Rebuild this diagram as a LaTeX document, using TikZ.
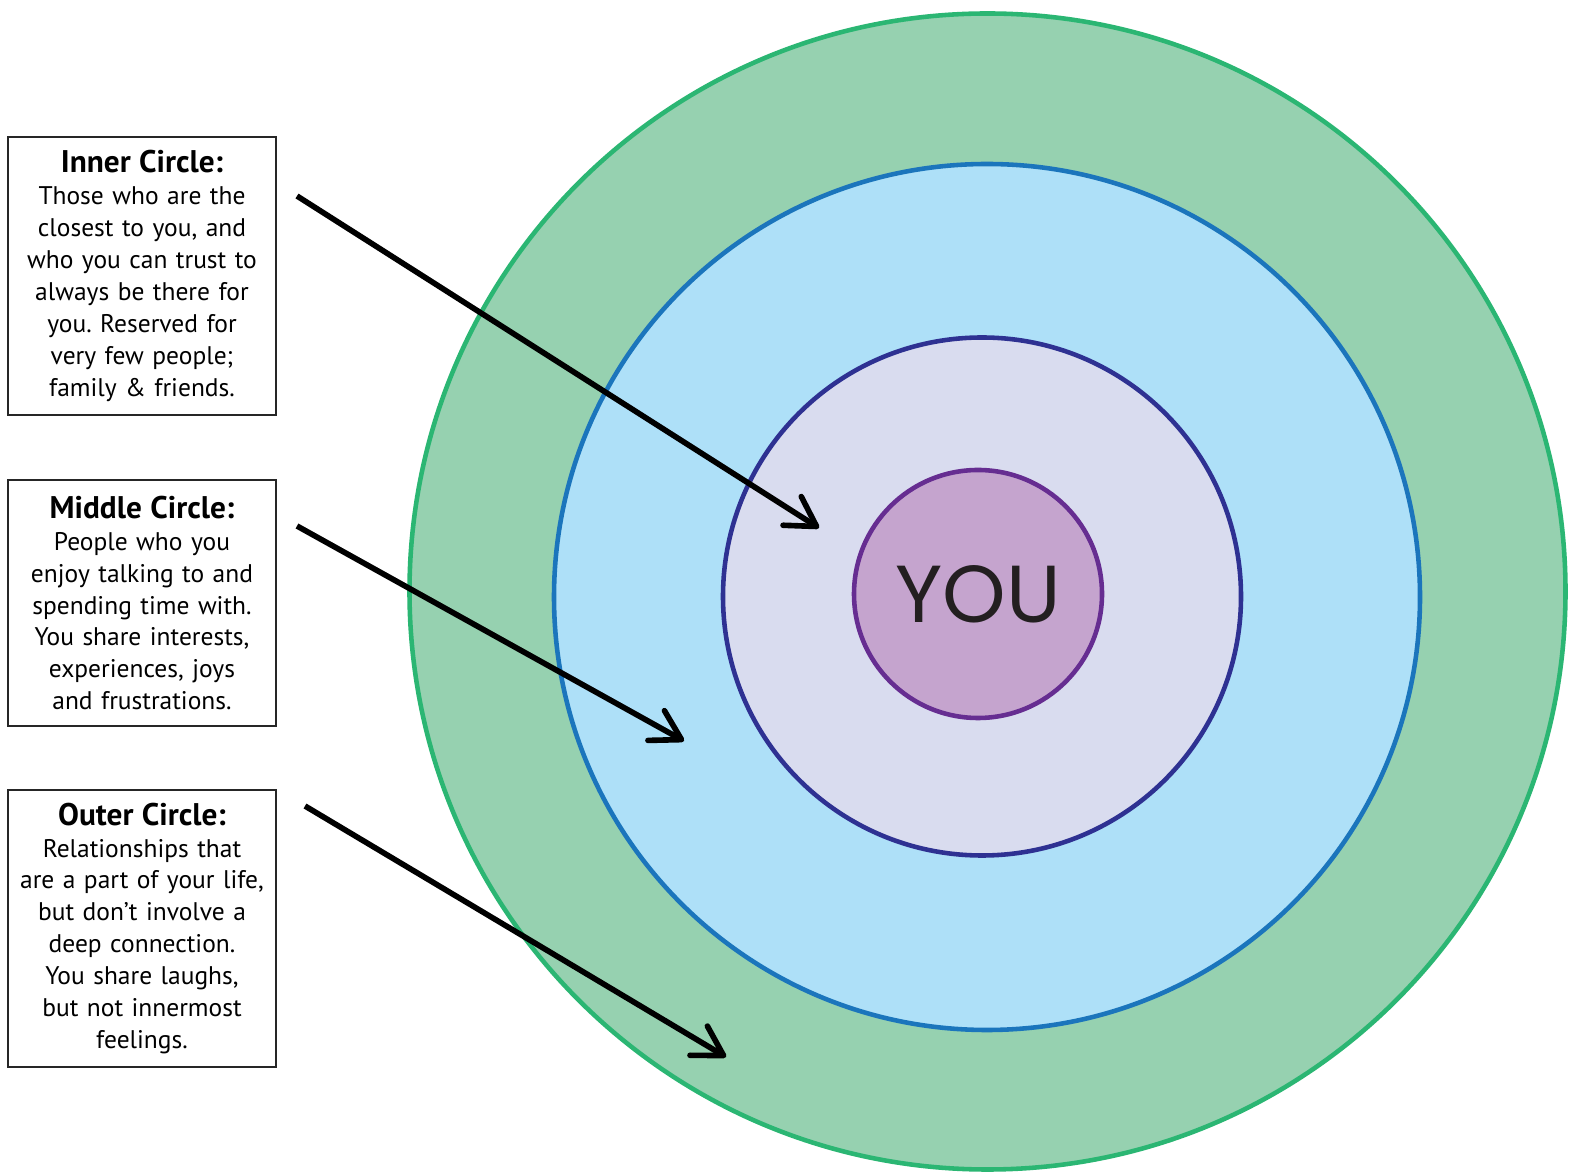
\documentclass[tikz,border=0pt]{standalone}
\usepackage{fontspec}
\setmainfont{PT Sans}
\newfontfamily\youfont{Poppins}
\usepackage{tikz}
\usepackage{color}
\usetikzlibrary{arrows}
\usetikzlibrary{arrows.meta}
\frenchspacing

\definecolor{outerfill}{HTML}{96D1B0}
\definecolor{outerline}{HTML}{2BB673}
\definecolor{middlefill}{HTML}{AEE0F8}
\definecolor{middleline}{HTML}{1B75BC}
\definecolor{innerfill}{HTML}{D9DCEF}
\definecolor{innerline}{HTML}{2E3192}
\definecolor{youfill}{HTML}{C5A4CE}
\definecolor{youline}{HTML}{662D91}
\definecolor{youtext}{HTML}{231F20}

\newcommand{\boxtitle}[1]{{\bfseries\fontsize{8.9pt}{9.3pt}\selectfont #1}}

\begin{document}
\begin{tikzpicture}[
		ring/.style={circle, line width=1.3pt, inner sep=0pt},
		infobox/.style={draw=black!85, line width=0.7pt, text width=2.55cm, align=center, inner xsep=0.065cm, inner ysep=0pt, font=\fontsize{7.25pt}{9.1pt}\selectfont},
		pointer/.style={line width=1.6pt, arrows={-Straight Barb[length=2.9mm,width=3.4mm,round]}}
	]
		\useasboundingbox (0,0) rectangle (15.76,-11.73);
		% rings
		\node[ring, draw=outerline, fill=outerfill, minimum size=11.56cm] (outer) at (9.875,-5.915) {};
		\node[ring, draw=middleline, fill=middlefill, minimum size=8.66cm] (middle) at (9.87,-5.97) {};
		\node[ring, draw=innerline, fill=innerfill, minimum size=5.18cm] (inner) at (9.82,-5.965) {};
		\node[ring, draw=youline, fill=youfill, minimum size=2.48cm, text=youtext, font=\youfont\fontsize{23pt}{23pt}\selectfont] (you) at (9.78,-5.94) {YOU};
		% boxes
		\node[infobox, minimum height=2.78cm] (innerbox) at (1.42,-2.76) {\boxtitle{Inner Circle:}\\Those who are the\\closest to you, and\\who you can trust to\\always be there for\\you. Reserved for\\very few people;\\family \& friends.};
		\node[infobox, minimum height=2.46cm] (middlebox) at (1.42,-6.03) {\boxtitle{Middle Circle:}\\People who you\\enjoy talking to and\\spending time with.\\You share interests,\\experiences, joys\\and frustrations.};
		\node[infobox, minimum height=2.77cm] (outerbox) at (1.42,-9.285) {\boxtitle{Outer Circle:}\\Relationships that\\are a part of your life,\\but don’t involve a\\deep connection.\\You share laughs,\\but not innermost\\feelings.};
		% arrows
		\coordinate (S1) at (2.97,-1.96);
		\coordinate (E1) at (8.19,-5.28);
		\coordinate (S2) at (2.97,-5.26);
		\coordinate (E2) at (6.84,-7.41);
		\coordinate (S3) at (3.05,-8.06);
		\coordinate (E3) at (7.26,-10.57);
		\foreach \i in {1,2,3} {
			\draw [pointer] (S\i) -- (E\i);
		}
\end{tikzpicture}
\end{document}
